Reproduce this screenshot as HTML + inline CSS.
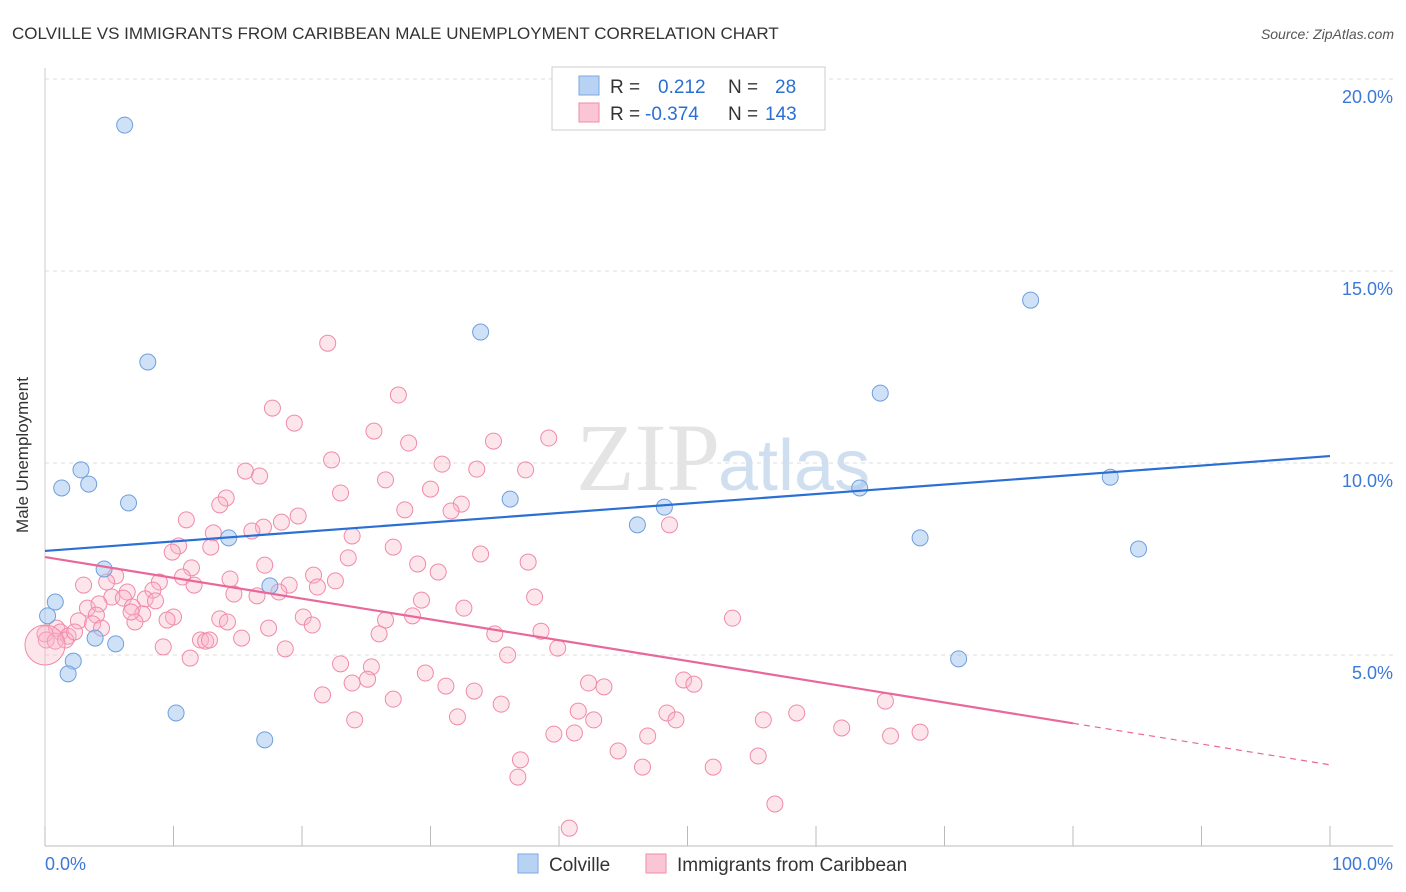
<!DOCTYPE html>
<html><head><meta charset="utf-8"><style>
body{margin:0;background:#fff;font-family:"Liberation Sans",sans-serif}
svg{display:block}
</style></head><body>
<svg id="chart" width="1406" height="892" xmlns="http://www.w3.org/2000/svg">
<text x="12" y="39" font-size="17" fill="#333">COLVILLE VS IMMIGRANTS FROM CARIBBEAN MALE UNEMPLOYMENT CORRELATION CHART</text>
<text x="1394" y="39" font-size="14" fill="#555" font-style="italic" text-anchor="end">Source: ZipAtlas.com</text>
<g id="grid"></g>
<text x="720" y="490" font-size="96" fill="#e4e4e4" text-anchor="end" font-family="Liberation Serif">ZIP</text>
<text x="718" y="490" font-size="72" fill="#d0dff0">atlas</text>
<g id="axes"></g>
<g id="pts"></g>
<g id="lines"></g>
<text x="28" y="455" font-size="17" fill="#333" text-anchor="middle" transform="rotate(-90 28 455)">Male Unemployment</text>
<g>
<rect x="552" y="67" width="273" height="63" fill="#fff" stroke="#ccc"/>
<rect x="579" y="76" width="20" height="19" fill="#b8d2f4" stroke="#7aa9e0"/>
<rect x="579" y="103" width="20" height="19" fill="#fac6d5" stroke="#f08aa8"/>
<text x="610" y="93" font-size="19" fill="#333">R = <tspan fill="#2a6fd4" x="658">0.212</tspan><tspan fill="#333" x="728">N =</tspan><tspan fill="#2a6fd4" x="775">28</tspan></text>
<text x="610" y="120" font-size="19" fill="#333">R = <tspan fill="#2a6fd4" x="645">-0.374</tspan><tspan fill="#333" x="728">N =</tspan><tspan fill="#2a6fd4" x="765">143</tspan></text>
</g>
<g>
<rect x="518" y="854" width="20" height="19" fill="#b8d2f4" stroke="#7aa9e0"/>
<text x="549" y="871" font-size="19" fill="#333">Colville</text>
<rect x="646" y="854" width="20" height="19" fill="#fac6d5" stroke="#f08aa8"/>
<text x="677" y="871" font-size="19" fill="#333">Immigrants from Caribbean</text>
</g>
</svg>
<script>
const yTicks=[5,10,15,20];
const yTickLabels=["5.0%","10.0%","15.0%","20.0%"];
const xTickLabels=["0.0%","100.0%"];
const blueX=[6.2,8.0,33.9,76.7,65.0,2.8,1.3,3.4,6.5,36.2,48.2,63.4,82.9,46.1,68.1,85.1,14.3,4.6,17.5,0.8,0.2,3.9,5.5,2.2,1.8,71.1,10.2,17.1];
const blueY=[18.8,12.63,13.41,14.24,11.82,9.82,9.35,9.45,8.96,9.06,8.85,9.35,9.63,8.39,8.05,7.76,8.05,7.24,6.80,6.38,6.02,5.44,5.29,4.84,4.51,4.90,3.49,2.79];
const pinkX=[22.0,27.5,17.7,19.4,25.6,28.3,34.9,39.2,22.3,30.9,33.6,37.4,15.6,16.7,26.5,23.0,30.0,32.4,31.6,28.0,14.1,13.6,11.0,19.7,18.4,17.0,16.1,13.1,23.9,48.6,10.4,12.9,9.9,27.1,33.9,23.6,37.6,29.0,17.1,11.4,30.6,5.5,10.7,20.9,14.4,22.6,8.9,4.8,3.0,11.6,19.0,21.2,18.2,14.7,16.5,8.4,6.4,5.2,6.1,7.8,3.3,4.2,8.6,6.8,29.3,38.1,32.6,20.1,28.6,26.5,10.0,9.5,4.0,7.6,2.6,3.7,7.0,53.5,20.8,17.4,4.4,0.9,1.2,1.8,0.0,0.1,0.8,1.6,2.3,15.3,26.0,35.0,38.6,12.1,12.5,12.8,9.2,18.7,39.9,36.0,23.0,25.4,25.1,23.9,29.6,42.3,43.5,49.7,50.5,31.2,33.4,21.6,27.1,35.5,65.4,41.5,48.4,58.5,32.1,42.7,49.1,55.9,24.1,62.0,39.6,41.2,46.9,65.8,68.1,44.6,55.5,37.0,46.5,52.0,36.8,56.8,40.8,13.6,11.3,6.7,14.2];
const pinkY=[13.12,11.77,11.43,11.04,10.83,10.52,10.57,10.65,10.08,9.97,9.84,9.82,9.79,9.66,9.56,9.22,9.32,8.93,8.75,8.78,9.09,8.91,8.52,8.62,8.46,8.33,8.23,8.18,8.10,8.39,7.84,7.81,7.68,7.81,7.63,7.53,7.42,7.37,7.34,7.27,7.16,7.06,7.03,7.08,6.98,6.93,6.90,6.90,6.82,6.82,6.82,6.77,6.64,6.59,6.54,6.69,6.64,6.51,6.48,6.46,6.22,6.33,6.41,6.25,6.43,6.51,6.22,5.99,6.02,5.91,5.99,5.91,6.04,6.07,5.89,5.81,5.86,5.96,5.78,5.70,5.70,5.70,5.60,5.49,5.55,5.39,5.36,5.39,5.60,5.44,5.55,5.55,5.62,5.39,5.36,5.39,5.21,5.16,5.18,5.00,4.77,4.69,4.37,4.27,4.53,4.27,4.17,4.35,4.24,4.19,4.06,3.96,3.85,3.72,3.80,3.54,3.49,3.49,3.39,3.31,3.31,3.31,3.31,3.10,2.94,2.97,2.89,2.89,2.99,2.50,2.37,2.27,2.08,2.08,1.82,1.12,0.49,5.94,4.92,6.12,5.86];
const bigPink=[0.0,5.26];
const blueTrend=[7.71,10.18];
const pinkTrend=[7.55,2.14];
const pinkSolidEnd=80;

const NS="http://www.w3.org/2000/svg";
const X=v=>45+v*12.85, Y=v=>847-v*38.4;
function mk(tag,attrs,parent){const e=document.createElementNS(NS,tag);for(const k in attrs)e.setAttribute(k,attrs[k]);parent.appendChild(e);return e;}
const grid=document.getElementById('grid'),axes=document.getElementById('axes'),pts=document.getElementById('pts'),lines=document.getElementById('lines');
yTicks.forEach((t,i)=>{
  const l=mk('line',{x1:45,x2:1393,y1:Y(t),y2:Y(t),stroke:'#ddd','stroke-dasharray':'4,4'},grid);
  
  
  const tx=mk('text',{x:1393,y:Y(t)+24,'font-size':18,fill:'#3b78d8','text-anchor':'end'},axes);
  tx.textContent=yTickLabels[i];
  
  
});
const ax=mk('line',{x1:45,x2:1393,y1:846,y2:846,stroke:'#bbb'},axes);


const ay=mk('line',{x1:45,x2:45,y1:68,y2:846,stroke:'#ccc'},axes);


for(let i=0;i<=10;i++){
  const t=mk('line',{x1:X(i*10),x2:X(i*10),y1:826,y2:846,stroke:'#bbb'},axes);
  
  
}
[[0,'start',45],[100,'end',1393]].forEach((d,i)=>{
  const tx=mk('text',{x:d[2],y:870,'font-size':18,fill:'#3b78d8','text-anchor':d[1]},axes);
  tx.textContent=xTickLabels[i];
  
  
});
pinkX.forEach((v,i)=>{
  const c=mk('circle',{cx:X(v),cy:Y(pinkY[i]),r:8,fill:'rgba(248,180,200,0.35)',stroke:'#f08aa8','stroke-width':1},pts);
  
  
});
const bp=mk('circle',{cx:X(bigPink[0]),cy:Y(bigPink[1]),r:20,fill:'rgba(248,180,200,0.35)',stroke:'#f08aa8'},pts);


blueX.forEach((v,i)=>{
  const c=mk('circle',{cx:X(v),cy:Y(blueY[i]),r:8,fill:'rgba(160,196,240,0.5)',stroke:'#6f9fdc','stroke-width':1},pts);
  
  
});
const bl=mk('line',{x1:X(0),y1:Y(blueTrend[0]),x2:X(100),y2:Y(blueTrend[1]),stroke:'#2a6fd4','stroke-width':2.2},lines);


const pm=pinkTrend[0]+(pinkTrend[1]-pinkTrend[0])*pinkSolidEnd/100;
const pl=mk('line',{x1:X(0),y1:Y(pinkTrend[0]),x2:X(pinkSolidEnd),y2:Y(pm),stroke:'#e8689a','stroke-width':2.2},lines);


const pd=mk('line',{x1:X(pinkSolidEnd),y1:Y(pm),x2:X(100),y2:Y(pinkTrend[1]),stroke:'#e8689a','stroke-width':1.2,'stroke-dasharray':'6,5'},lines);


</script>
</body></html>
